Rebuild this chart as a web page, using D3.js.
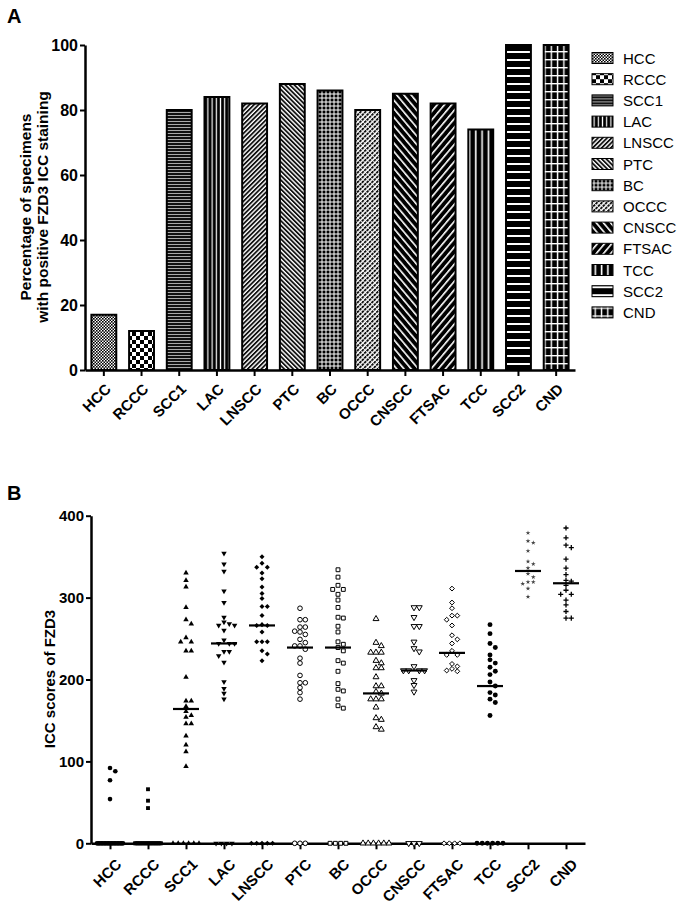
<!DOCTYPE html>
<html>
<head>
<meta charset="utf-8">
<script src="https://cdn.jsdelivr.net/npm/d3@7"></script>
<style>
  body { margin: 0; background: #fff; }
  text { font-family: "Liberation Sans", Arial, sans-serif; fill: #000; }
</style>
</head>
<body>
<div id="chart"></div>
<script>
var categories = ["HCC", "RCCC", "SCC1", "LAC", "LNSCC", "PTC", "BC", "OCCC", "CNSCC", "FTSAC", "TCC", "SCC2", "CND"];
var positivePct = [17, 12, 80, 84, 82, 88, 86, 80, 85, 82, 74, 100, 100];
var pctTicks = [0, 20, 40, 60, 80, 100];
var scoreTicks = [0, 100, 200, 300, 400];

// negative specimens (score 0) per category
var negativeCounts = [19, 22, 6, 4, 5, 3, 4, 6, 3, 4, 6, 0, 0];

// positive ICC scores
var scoresHCC = [92, 88, 77, 54];
var scoresRCCC = [66, 52, 43];
var scoresSCC1 = [330, 321, 313, 288, 273, 268, 251, 246, 246, 235, 235, 203, 174, 174, 167, 161, 156, 154, 146, 146, 131, 120, 112, 94];
var scoresLAC = [354, 341, 332, 308, 294, 276, 270, 268, 266, 266, 260, 248, 244, 244, 244, 234, 234, 229, 221, 197, 189, 183, 176];
var scoresLNSCC = [350, 342, 337, 337, 330, 323, 313, 305, 299, 289, 289, 278, 267, 266, 266, 258, 246, 246, 246, 235, 231, 223];
var scoresPTC = [287, 273, 273, 264, 264, 259, 258, 255, 249, 245, 241, 241, 237, 226, 220, 205, 196, 196, 190, 184, 176];
var scoresBC = [334, 325, 315, 310, 310, 304, 297, 288, 276, 275, 265, 258, 246, 243, 239, 235, 223, 220, 210, 195, 188, 186, 176, 168, 165];
var scoresOCCC = [274, 245, 241, 233, 233, 233, 223, 220, 214, 214, 203, 192, 192, 185, 183, 176, 176, 176, 166, 153, 151, 142, 139];
var scoresCNSCC = [288, 288, 276, 265, 265, 246, 238, 234, 216, 211, 211, 211, 211, 199, 193, 185];
var scoresFTSAC = [311, 294, 287, 278, 278, 273, 266, 254, 249, 244, 235, 230, 230, 219, 216, 213, 211, 210];
var scoresTCC = [267, 256, 244, 239, 230, 224, 220, 215, 210, 206, 197, 192, 184, 181, 176, 172, 156];
var scoresSCC2 = [379, 369, 367, 357, 344, 341, 336, 329, 325, 319, 319, 317, 311, 301];
var scoresCND = [385, 373, 364, 361, 347, 336, 328, 321, 320, 315, 309, 304, 304, 297, 291, 283, 275, 275];

var scores = [scoresHCC, scoresRCCC, scoresSCC1, scoresLAC, scoresLNSCC, scoresPTC, scoresBC,
              scoresOCCC, scoresCNSCC, scoresFTSAC, scoresTCC, scoresSCC2, scoresCND];

var width = 683;
var height = 906;

var svg = d3.select("#chart")
  .append("svg")
  .attr("width", width)
  .attr("height", height);

var defs = svg.append("defs");

// ---------- fill patterns ----------
function addPattern(id, w, h, bg, draw, transform) {
  var p = defs.append("pattern")
    .attr("id", id)
    .attr("patternUnits", "userSpaceOnUse")
    .attr("width", w)
    .attr("height", h);
  if (transform) p.attr("patternTransform", transform);
  p.append("rect").attr("width", w).attr("height", h).attr("fill", bg);
  draw(p);
}

function rect(p, x, y, w, h, c) {
  p.append("rect").attr("x", x).attr("y", y).attr("width", w).attr("height", h).attr("fill", c);
}

var patterns = [
  function(id) { addPattern(id, 3, 3, "#fff", function(p) { rect(p, 0, 0, 1.6, 1.6, "#000"); rect(p, 1.5, 1.5, 1.6, 1.6, "#000"); }); },
  function(id) { addPattern(id, 8, 8, "#fff", function(p) { rect(p, 0, 0, 4, 4, "#000"); rect(p, 4, 4, 4, 4, "#000"); }); },
  function(id) { addPattern(id, 4, 3, "#111", function(p) { rect(p, 0, 1, 4, 1, "#aaa"); }); },
  function(id) { addPattern(id, 4.2, 4, "#000", function(p) { rect(p, 1.5, 0, 1.2, 4, "#fff"); }); },
  function(id) { addPattern(id, 3.2, 4, "#fff", function(p) { rect(p, 0, 0, 1.8, 4, "#111"); }, "rotate(45)"); },
  function(id) { addPattern(id, 3.2, 4, "#fff", function(p) { rect(p, 0, 0, 1.8, 4, "#111"); }, "rotate(-45)"); },
  function(id) { addPattern(id, 4, 4, "#000", function(p) { rect(p, 1.5, 0, 1, 4, "#fff"); rect(p, 0, 1.5, 4, 1, "#fff"); }); },
  function(id) { addPattern(id, 3.4, 3.4, "#fff", function(p) { rect(p, 0, 0, 1.9, 2.7, "#111"); }, "rotate(45)"); },
  function(id) { addPattern(id, 5.5, 4, "#000", function(p) { rect(p, 0, 0, 1.6, 4, "#fff"); }, "rotate(-40)"); },
  function(id) { addPattern(id, 5.5, 4, "#000", function(p) { rect(p, 0, 0, 1.6, 4, "#fff"); }, "rotate(40)"); },
  function(id) { addPattern(id, 6.3, 4, "#000", function(p) { rect(p, 2.5, 0, 1.6, 4, "#fff"); }); },
  function(id) { addPattern(id, 4, 8, "#000", function(p) { rect(p, 0, 3, 4, 2, "#fff"); }); },
  function(id) { addPattern(id, 6.3, 8, "#000", function(p) { rect(p, 2.5, 0, 1.4, 8, "#fff"); rect(p, 0, 3, 6.3, 1.4, "#fff"); }); }
];
patterns.forEach(function(make, i) { make("pat" + i); });

function styleAxis(g, fontSize, domainWidth) {
  g.select(".domain").attr("stroke", "#000").attr("stroke-width", domainWidth);
  g.selectAll(".tick line").attr("stroke", "#000").attr("stroke-width", 2);
  g.selectAll(".tick text")
    .attr("fill", "#000")
    .style("font-size", fontSize + "px")
    .style("font-weight", "bold");
}

// ---------- panel A ----------
var aTop = 45, aBottom = 370, aLeft = 85, aRight = 575;

var xBand = d3.scaleBand()
  .domain(categories)
  .range([aLeft, aRight])
  .paddingInner(0.34)
  .paddingOuter(0.17);

var yPct = d3.scaleLinear()
  .domain([0, 100])
  .range([aBottom, aTop]);

var panelA = svg.append("g");

panelA.selectAll("rect.bar")
  .data(categories)
  .join("rect")
  .attr("class", "bar")
  .attr("x", function(d) { return xBand(d); })
  .attr("width", xBand.bandwidth())
  .attr("y", function(d, i) { return yPct(positivePct[i]); })
  .attr("height", function(d, i) { return aBottom - yPct(positivePct[i]); })
  .attr("fill", function(d, i) { return "url(#pat" + i + ")"; })
  .attr("stroke", "#000")
  .attr("stroke-width", 2);

var yAxisA = panelA.append("g")
  .attr("transform", "translate(" + aLeft + ",0)")
  .call(d3.axisLeft(yPct).tickValues(pctTicks).tickSize(5).tickSizeOuter(0).tickPadding(2));
styleAxis(yAxisA, 16, 2.5);

var xAxisA = panelA.append("g")
  .attr("transform", "translate(0," + aBottom + ")")
  .call(d3.axisBottom(xBand).tickSize(6).tickSizeOuter(0));
styleAxis(xAxisA, 15, 2.5);
xAxisA.selectAll(".tick text")
  .attr("x", 0).attr("y", 0).attr("dy", 0)
  .attr("text-anchor", "end")
  .attr("transform", "translate(8,20) rotate(-45)");

panelA.append("text")
  .attr("transform", "translate(31,207) rotate(-90)")
  .attr("text-anchor", "middle")
  .style("font-size", "15.5px")
  .style("font-weight", "bold")
  .text("Percentage of specimens");
panelA.append("text")
  .attr("transform", "translate(48,207) rotate(-90)")
  .attr("text-anchor", "middle")
  .style("font-size", "15.5px")
  .style("font-weight", "bold")
  .text("with positive FZD3 ICC staining");

panelA.append("text")
  .attr("x", 7).attr("y", 23)
  .style("font-size", "20px")
  .style("font-weight", "bold")
  .text("A");

var legend = panelA.append("g")
  .selectAll("g")
  .data(categories)
  .join("g")
  .attr("transform", function(d, i) { return "translate(592," + (58 + i * 21.2) + ")"; });
legend.append("rect")
  .attr("x", 0).attr("y", -5.5)
  .attr("width", 21).attr("height", 11)
  .attr("fill", function(d, i) { return "url(#pat" + i + ")"; })
  .attr("stroke", "#000")
  .attr("stroke-width", 1);
legend.append("text")
  .attr("x", 31).attr("y", 5.5)
  .style("font-size", "15px")
  .text(function(d) { return d; });

// ---------- panel B ----------
var bTop = 515.7, bBottom = 843.3, bLeft = 91, bRight = 585;

var xPoint = d3.scalePoint()
  .domain(categories)
  .range([bLeft, bRight])
  .padding(0.5);

var yScore = d3.scaleLinear()
  .domain([0, 400])
  .range([bBottom, bTop]);

var panelB = svg.append("g");

var yAxisB = panelB.append("g")
  .attr("transform", "translate(" + bLeft + ",0)")
  .call(d3.axisLeft(yScore).tickValues(scoreTicks).tickSize(5).tickSizeOuter(0).tickPadding(2));
styleAxis(yAxisB, 15, 2.5);

var xAxisB = panelB.append("g")
  .attr("transform", "translate(0," + bBottom + ")")
  .call(d3.axisBottom(xPoint).tickSize(6).tickSizeOuter(0));
styleAxis(xAxisB, 15, 2.5);
xAxisB.selectAll(".tick text")
  .attr("x", 0).attr("y", 0).attr("dy", 0)
  .attr("text-anchor", "end")
  .attr("transform", "translate(12,22) rotate(-45)");

panelB.append("text")
  .attr("transform", "translate(55,679) rotate(-90)")
  .attr("text-anchor", "middle")
  .style("font-size", "15px")
  .style("font-weight", "bold")
  .text("ICC scores of FZD3");

panelB.append("text")
  .attr("x", 7).attr("y", 500)
  .style("font-size", "20px")
  .style("font-weight", "bold")
  .text("B");

var plusSymbol = {
  draw: function(ctx, size) {
    var r = Math.sqrt(size) / 2;
    ctx.moveTo(-r, 0); ctx.lineTo(r, 0);
    ctx.moveTo(0, -r); ctx.lineTo(0, r);
  }
};
var diamond = d3.symbolDiamond2 || d3.symbolDiamond;

var symbolStyles = [
  { type: d3.symbolCircle, size: 17, filled: true },
  { type: d3.symbolSquare, size: 15, filled: true },
  { type: d3.symbolTriangle, size: 13, filled: true },
  { type: d3.symbolTriangle, size: 13, filled: true, flip: true },
  { type: diamond, size: 16, filled: true },
  { type: d3.symbolCircle, size: 17, filled: false },
  { type: d3.symbolSquare, size: 15, filled: false },
  { type: d3.symbolTriangle, size: 15, filled: false },
  { type: d3.symbolTriangle, size: 15, filled: false, flip: true },
  { type: diamond, size: 15, filled: false },
  { type: d3.symbolCircle, size: 19, filled: true },
  { type: d3.symbolStar, size: 7, filled: true, color: "#444" },
  { type: plusSymbol, size: 26, filled: false, line: true }
];

// column-scatter layout: points that would overlap move to side slots
var slotWidth = 5.3;
function swarm(values) {
  var placed = [];
  values.map(function(v) { return { v: v, y: yScore(v) }; })
    .sort(function(a, b) { return a.y - b.y; })
    .forEach(function(p) {
      for (var k = 0; k < 30; k++) {
        var slot = k === 0 ? 0 : (k % 2 === 1 ? (k + 1) / 2 : -k / 2);
        var hit = placed.some(function(q) { return q.slot === slot && Math.abs(q.y - p.y) < 4.6; });
        if (!hit) { p.slot = slot; break; }
      }
      p.dx = p.slot * slotWidth;
      placed.push(p);
    });
  return placed;
}

function zeroRow(n) {
  var half = Math.min(13, (n - 1) / 2 * slotWidth);
  return d3.range(n).map(function(i) {
    return { v: 0, y: yScore(0), dx: n === 1 ? 0 : -half + 2 * half * i / (n - 1) };
  });
}

categories.forEach(function(cat, i) {
  var st = symbolStyles[i];
  var pts = swarm(scores[i]).concat(zeroRow(negativeCounts[i]));
  var cx = xPoint(cat);
  var gen = d3.symbol().type(st.type).size(st.size);
  var col = st.color || "#000";

  panelB.append("g")
    .selectAll("path")
    .data(pts)
    .join("path")
    .attr("d", gen)
    .attr("transform", function(d) {
      return "translate(" + (cx + d.dx) + "," + d.y + ")" + (st.flip ? " rotate(180)" : "");
    })
    .attr("fill", st.line ? "none" : (st.filled ? col : "#fff"))
    .attr("stroke", st.filled ? "none" : col)
    .attr("stroke-width", st.line ? 1.3 : 1);

  var all = scores[i].concat(d3.range(negativeCounts[i]).map(function() { return 0; }));
  var med = d3.median(all);
  panelB.append("line")
    .attr("x1", cx - 13).attr("x2", cx + 13)
    .attr("y1", yScore(med)).attr("y2", yScore(med))
    .attr("stroke", "#000")
    .attr("stroke-width", 2.2);
});
</script>
</body>
</html>
